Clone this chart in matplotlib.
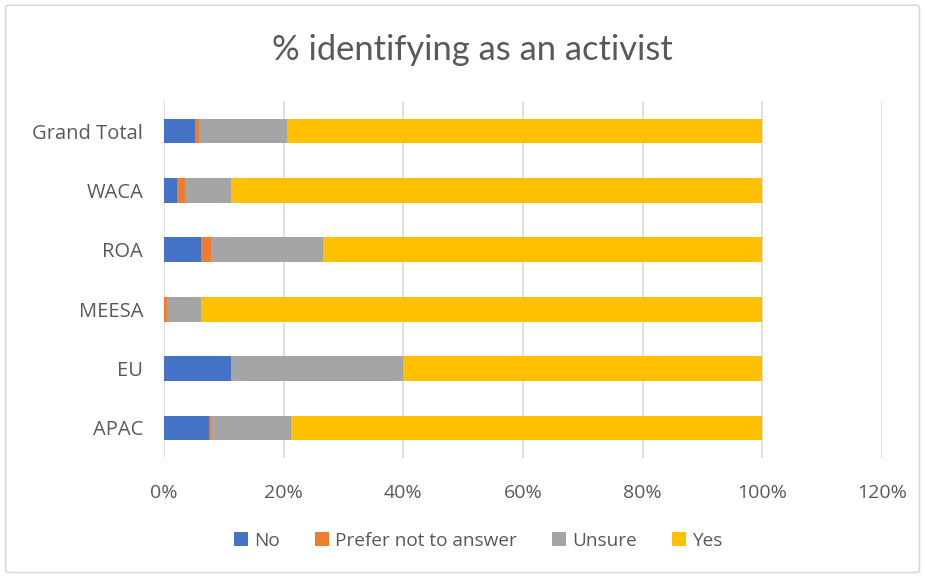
import matplotlib
matplotlib.use("Agg")
import matplotlib.pyplot as plt
from matplotlib.patches import FancyBboxPatch
import numpy as np

categories = ["APAC", "EU", "MEESA", "ROA", "WACA", "Grand Total"]
no_vals = [7.5, 11.2, 0.0, 6.1, 2.1, 5.1]
prefer_vals = [0.4, 0.0, 0.5, 1.8, 1.4, 0.8]
unsure_vals = [13.3, 28.7, 5.6, 18.7, 7.7, 14.6]
yes_vals = [78.8, 60.1, 93.9, 73.4, 88.8, 79.5]
series_names = ["No", "Prefer not to answer", "Unsure", "Yes"]
colors = ["#4472C4", "#ED7D31", "#A5A5A5", "#FFC000"]
xticks = [0, 20, 40, 60, 80, 100, 120]

plt.rcParams['font.family'] = ['Open Sans', 'DejaVu Sans']
fig = plt.figure(figsize=(9.25, 5.76), dpi=100)
ax = fig.add_axes([0.1773, 0.2054, 0.7762, 0.6187])

y = np.arange(len(categories))
left = np.zeros(len(categories))
for name, vals, c in zip(series_names, [no_vals, prefer_vals, unsure_vals, yes_vals], colors):
    v = np.array(vals)
    ax.barh(y, v, left=left, height=0.42, color=c, label=name, zorder=3)
    left += v

ax.set_xlim(0, 120)
ax.set_ylim(-0.5, len(categories) - 0.5)
ax.set_xticks(xticks)
ax.set_xticklabels([f"{t}%" for t in xticks])
ax.set_yticks(y)
ax.set_yticklabels(categories)
ax.grid(axis='x', color='#d9d9d9', linewidth=1.2, zorder=0)
for s in ax.spines.values():
    s.set_visible(False)
ax.tick_params(length=0, colors='#595959')
ax.tick_params(axis='y', pad=15, labelsize=14.5)
ax.tick_params(axis='x', pad=19, labelsize=14)

fig.text(0.5103, 0.914, "% identifying as an activist", ha='center', va='center',
         fontsize=24.8, color='#595959', family=['Lato', 'DejaVu Sans'])

handles, labels = ax.get_legend_handles_labels()
fig.legend(handles, labels, loc='center', bbox_to_anchor=(0.517, 0.061), ncol=4,
           frameon=False, fontsize=13.7, labelcolor='#595959',
           handlelength=0.75, handleheight=0.75, handletextpad=0.35, columnspacing=1.8)

border = FancyBboxPatch((0.006, 0.006), 0.988, 0.985, boxstyle="round,pad=0,rounding_size=0.005",
                        transform=fig.transFigure, fill=False, edgecolor='#d9d9d9', linewidth=1.2)
fig.patches.append(border)

fig.savefig("out.png", dpi=100)
